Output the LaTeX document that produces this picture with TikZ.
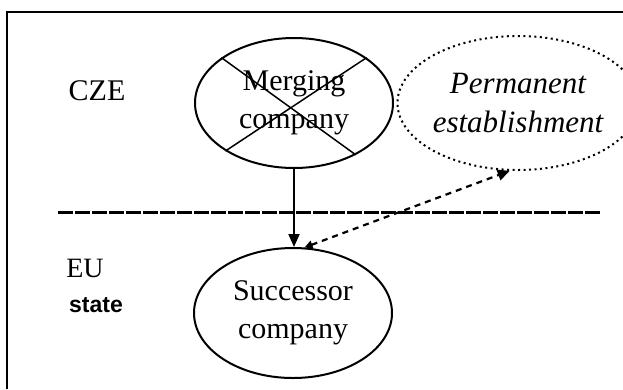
\documentclass[tikz,border=0pt]{standalone}
\usepackage{fontspec}
\setmainfont{Liberation Serif}
\newfontfamily\statefont{Liberation Sans}
\usetikzlibrary{shapes.geometric,arrows.meta}

\tikzset{
  bubble/.style={draw, ellipse, line width=2pt, inner sep=0pt, align=center,
    minimum width=198pt, minimum height=130pt, font=\fontsize{30}{38}\selectfont},
  lbl/.style={inner sep=0pt, font=\fontsize{30}{36}\selectfont},
  tip/.style={-{Triangle[length=13pt,width=11pt]}}
}

\begin{document}
\begin{tikzpicture}[x=1pt,y=1pt,yscale=-1,xscale=1]
%set diagram size
\useasboundingbox (0,0) rectangle (623,389);

%Frame
\draw [line width=2.2pt] (7,389) -- (7,12) -- (623,12) ;

% Ellipses
\node [bubble] (merge) at (294,103) {Merging\\company};
\node [bubble, dash pattern=on 2pt off 3.5pt, minimum height=134pt, font=\fontsize{31}{39}\selectfont\itshape] (perm) at (518,103) {Permanent\\establishment};
\node [bubble] (succ) at (293,313) {Successor\\company};

% Cross over merging company
\draw [line width=1.5pt] (merge.148) -- (merge.-40) ;
\draw [line width=1.5pt] (merge.32) -- (merge.215) ;

% Border line
\coordinate (bl) at (58,212);
\coordinate (br) at (600,212);
\draw [line width=3pt, dash pattern=on 15pt off 2pt] (bl) -- (br) ;

% Arrows
\draw [line width=2pt, tip] (merge.south) -- (merge.south |- succ.north) ;
\draw [line width=2.2pt, dash pattern=on 6pt off 5pt, {Triangle[length=8pt,width=8pt]}-{Triangle[length=12pt,width=11pt]}] (succ.80) -- (perm.-97) ;

% Text Node
\node [lbl] (cze) at (97,91) {CZE};
% Text Node
\node [lbl, font=\fontsize{28}{34}\selectfont] (eu) at (85,268) {EU};
% Text Node
\node [lbl, font=\fontsize{23}{27}\statefont\bfseries] (state) at (96,305) {state};

\end{tikzpicture}
\end{document}
